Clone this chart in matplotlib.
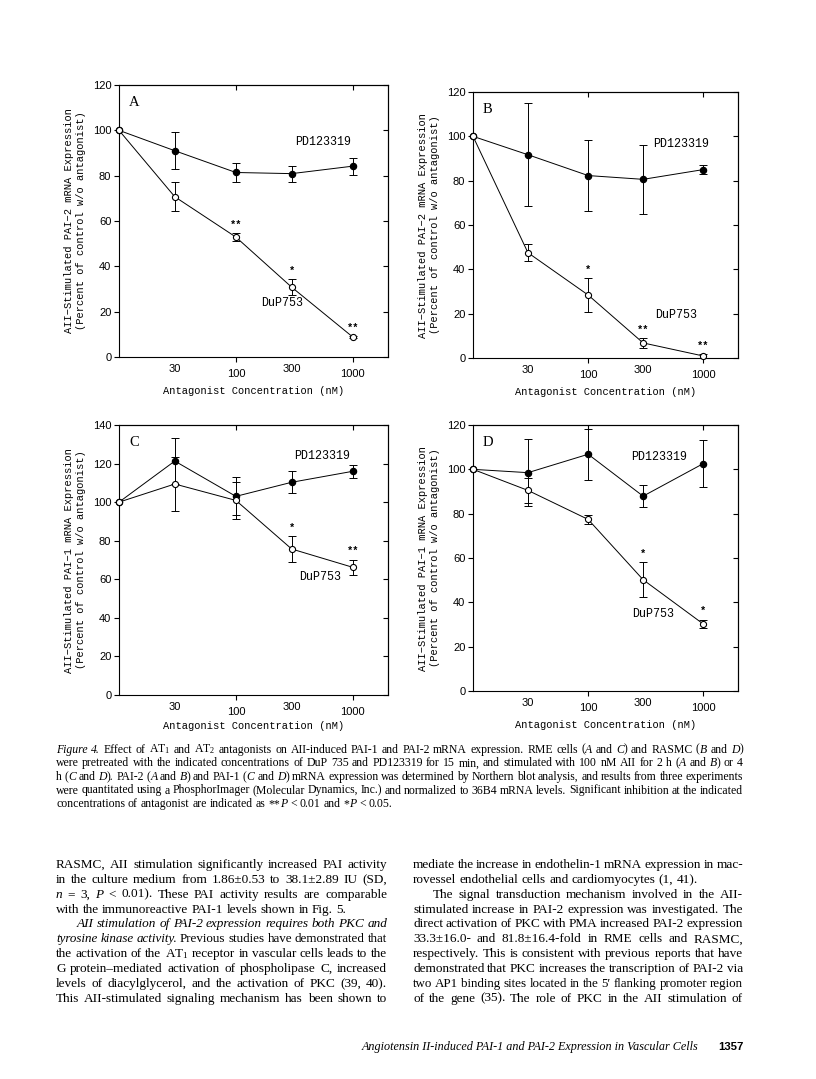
import numpy as np
import matplotlib
matplotlib.use("Agg")
import matplotlib.pyplot as plt
from matplotlib.ticker import FixedLocator, NullLocator

plt.rcParams["mathtext.fontset"] = "custom"
plt.rcParams["mathtext.rm"] = "Liberation Serif"
plt.rcParams["mathtext.it"] = "Liberation Serif:italic"
plt.rcParams["mathtext.bf"] = "Liberation Serif:bold"

# ---------- data ----------
conc = [10, 30, 100, 300, 1000]          # 10 = no antagonist (control)
xtick_major = [100, 1000]
xtick_minor = [30, 300]

a_pd = [100, 91.0, 81.4, 80.9, 84.2]
a_pd_err = [0, 8.2, 4.3, 3.5, 3.7]
a_dup = [100, 70.7, 52.9, 30.8, 8.8]
a_dup_err = [0, 6.4, 1.6, 3.5, 0.5]
a_sig = ["", "", "**", "*", "**"]

b_pd = [100, 91.7, 82.3, 80.6, 85.0]
b_pd_err = [0, 23.2, 15.9, 15.5, 2.0]
b_dup = [100, 47.5, 28.4, 6.8, 0.9]
b_dup_err = [0, 3.9, 7.7, 2.2, 1.0]
b_sig = ["", "", "*", "**", "**"]

c_pd = [100, 121.3, 103.0, 110.3, 116.0]
c_pd_err = [0, 12.1, 9.8, 5.7, 3.3]
c_dup = [100, 109.4, 100.9, 75.7, 66.2]
c_dup_err = [0, 13.8, 9.6, 6.7, 4.0]
c_sig = ["", "", "", "*", "**"]

d_pd = [100, 98.5, 106.8, 87.9, 102.6]
d_pd_err = [0, 15.0, 11.6, 5.0, 10.7]
d_dup = [100, 90.5, 77.4, 50.2, 30.2]
d_dup_err = [0, 5.5, 2.2, 8.0, 2.0]
d_sig = ["", "", "", "*", "*"]

ylab_pai2 = "AII\u2212Stimulated PAI\u22122 mRNA Expression\n(Percent of control w/o antagonist)"
ylab_pai1 = "AII\u2212Stimulated PAI\u22121 mRNA Expression\n(Percent of control w/o antagonist)"
xlab = "Antagonist Concentration (nM)"

W, H = 816, 1079
fig = plt.figure(figsize=(W / 100, H / 100), dpi=100)
fig.patch.set_facecolor("white")

MONO = "Liberation Mono"
SANS = "Liberation Sans"
SERIF = "Liberation Serif"


def box(l, t, r, b):
    return [l / W, 1 - b / H, (r - l) / W, (b - t) / H]


def panel(rect, letter, pd, pd_err, dup, dup_err, sig, ymax, ylabel,
          pd_pos, dup_pos, xlab_y):
    ax = fig.add_axes(box(*rect))
    ax.set_xscale("log")
    ax.set_xlim(10, 2000)
    ax.set_ylim(0, ymax)
    for s in ax.spines.values():
        s.set_linewidth(0.8)

    ax.plot(conc, pd, "-o", color="k", lw=0.7, ms=4.4, clip_on=False, zorder=3)
    ax.errorbar(conc[1:], pd[1:], yerr=pd_err[1:], fmt="none", ecolor="k",
                elinewidth=0.7, capsize=2.8, capthick=0.7, zorder=2)
    ax.plot(conc, dup, "-o", color="k", lw=0.7, ms=4.4, mfc="white", mec="k",
            mew=0.8, clip_on=False, zorder=4)
    ax.errorbar(conc[1:], dup[1:], yerr=dup_err[1:], fmt="none", ecolor="k",
                elinewidth=0.7, capsize=2.8, capthick=0.7, zorder=2)

    for x, y, e, s in zip(conc, dup, dup_err, sig):
        if s:
            ax.annotate(s, (x, y + e), xytext=(0, 6), textcoords="offset points",
                        ha="center", va="center", family=MONO,
                        fontweight="bold", fontsize=7.5)

    ax.text(*pd_pos, "PD123319", family=MONO, fontsize=8.4, ha="center", va="center")
    ax.text(*dup_pos, "DuP753", family=MONO, fontsize=8.4, ha="center", va="center")
    ax.text(0.055, 0.935, letter, transform=ax.transAxes, family=SERIF,
            fontsize=10.5, ha="center", va="center")

    ax.xaxis.set_major_locator(FixedLocator(xtick_major))
    ax.xaxis.set_minor_locator(FixedLocator(xtick_minor))
    ax.set_xticklabels([str(v) for v in xtick_major])
    ax.set_xticklabels([str(v) for v in xtick_minor], minor=True)
    ax.set_yticks(np.arange(0, ymax + 1, 20))
    ax.tick_params(axis="both", which="major", direction="out", length=3.5,
                   width=0.8, labelsize=8, labelfontfamily=SANS)
    ax.tick_params(axis="x", which="both", pad=5)
    ax.tick_params(axis="x", which="minor", length=0, labelsize=8,
                   labelfontfamily=SANS)
    ax.tick_params(axis="y", pad=2)

    top = ax.secondary_xaxis("top")
    top.xaxis.set_major_locator(FixedLocator(xtick_major))
    top.xaxis.set_minor_locator(NullLocator())
    top.tick_params(direction="in", length=3.5, width=0.8, labeltop=False)
    right = ax.secondary_yaxis("right")
    right.set_yticks(np.arange(0, ymax + 1, 20))
    right.tick_params(direction="in", length=3.5, width=0.8, labelright=False)
    for sec in (top, right):
        for s in sec.spines.values():
            s.set_linewidth(0.8)

    ax.set_xlabel(xlab, family=MONO, fontsize=7.5)
    ax.xaxis.set_label_coords(0.5, xlab_y)
    ax.set_ylabel(ylabel, family=MONO, fontsize=7.5, linespacing=1.25)
    ax.yaxis.set_label_coords(-0.165, 0.5)
    ax.yaxis.label.set_va("center")
    return ax


panel((119, 85, 388, 357), "A", a_pd, a_pd_err, a_dup, a_dup_err, a_sig, 120,
      ylab_pai2, (562, 95), (248, 24), -0.105)
panel((473, 92, 738, 358), "B", b_pd, b_pd_err, b_dup, b_dup_err, b_sig, 120,
      ylab_pai2, (646, 96.7), (582, 19.4), -0.11)
panel((119, 425, 388, 695), "C", c_pd, c_pd_err, c_dup, c_dup_err, c_sig, 140,
      ylab_pai1, (542, 124), (524, 61), -0.095)
panel((473, 425, 738, 691), "D", d_pd, d_pd_err, d_dup, d_dup_err, d_sig, 120,
      ylab_pai1, (411, 105.6), (365, 34.9), -0.11)

# ---------- page text ----------
caption = [
    "|Figure 4.| Effect of AT$_1$ and AT$_2$ antagonists on AII-induced PAI-1 and PAI-2 mRNA expression. RME cells (|A| and |C|) and RASMC (|B| and |D|)",
    "were pretreated with the indicated concentrations of DuP 735 and PD123319 for 15 min, and stimulated with 100 nM AII for 2 h (|A| and |B|) or 4",
    "h (|C| and |D|). PAI-2 (|A| and |B|) and PAI-1 (|C| and |D|) mRNA expression was determined by Northern blot analysis, and results from three experiments",
    "were quantitated using a PhosphorImager (Molecular Dynamics, Inc.) and normalized to 36B4 mRNA levels. Significant inhibition at the indicated",
    "concentrations of antagonist are indicated as **|P| < 0.01 and *|P| < 0.05.",
]
left_col = [
    "RASMC, AII stimulation significantly increased PAI activity",
    "in the culture medium from 1.86\u00b10.53 to 38.1\u00b12.89 IU (SD,",
    "|n| = 3, |P| < 0.01). These PAI activity results are comparable",
    "with the immunoreactive PAI-1 levels shown in Fig. 5.",
    "|AII stimulation of PAI-2 expression requires both PKC and",
    "tyrosine kinase activity.| Previous studies have demonstrated that",
    "the activation of the AT$_1$ receptor in vascular cells leads to the",
    "G protein\u2013mediated activation of phospholipase C, increased",
    "levels of diacylglycerol, and the activation of PKC (39, 40).",
    "This AII-stimulated signaling mechanism has been shown to",
]
right_col = [
    "mediate the increase in endothelin-1 mRNA expression in mac-",
    "rovessel endothelial cells and cardiomyocytes (1, 41).",
    "The signal transduction mechanism involved in the AII-",
    "stimulated increase in PAI-2 expression was investigated. The",
    "direct activation of PKC with PMA increased PAI-2 expression",
    "33.3\u00b116.0- and 81.8\u00b116.4-fold in RME cells and RASMC,",
    "respectively. This is consistent with previous reports that have",
    "demonstrated that PKC increases the transcription of PAI-2 via",
    "two AP1 binding sites located in the 5\u2032 flanking promoter region",
    "of the gene (35). The role of PKC in the AII stimulation of",
]
left_indent = [0, 0, 0, 0, 21, 0, 0, 0, 0, 0]
left_ragged = [3]
right_indent = [0, 0, 20, 0, 0, 0, 0, 0, 0, 0]
right_ragged = [1]

renderer = fig.canvas.get_renderer()


def split_words(line, italic):
    words = []
    for raw in line.split(" "):
        pieces = []
        for j, seg in enumerate(raw.split("|")):
            if j > 0:
                italic = not italic
            if seg:
                pieces.append((seg, italic))
        if pieces:
            words.append(pieces)
    return words


def draw_line(x0, x1, yb, line, size, justify, italic_start=False):
    words = split_words(line, italic_start)
    # shrink the line a little if it would not fit with real spaces
    while True:
        objs, widths = [], []
        for pieces in words:
            row, w = [], 0
            for seg, it in pieces:
                t = fig.text(0, 1 - yb / H, seg, family=SERIF, fontsize=size,
                             style="italic" if it else "normal", va="baseline")
                pw = t.get_window_extent(renderer).width
                row.append((t, pw))
                w += pw
            objs.append(row)
            widths.append(w)
        space = size * 1.389 * 0.25
        if justify and len(words) > 1:
            gap = (x1 - x0 - sum(widths)) / (len(words) - 1)
        else:
            gap = space
        if gap >= 0.7 * space or size < 6:
            break
        for row in objs:
            for t, _ in row:
                t.remove()
        size -= 0.15
    x = x0
    for row, w in zip(objs, widths):
        px = x
        for t, pw in row:
            t.set_x(px / W)
            px += pw
        x += w + gap


for i, line in enumerate(caption):
    draw_line(56, 743, 752.7 + i * 13.6, line, 8.5, justify=(i < len(caption) - 1))

it_state = False
for i, line in enumerate(left_col):
    draw_line(56 + left_indent[i], 387, 868 + i * 14.86, line, 9.5,
              justify=(i not in left_ragged), italic_start=it_state)
    it_state = (it_state + line.count("|")) % 2 == 1

for i, line in enumerate(right_col):
    draw_line(413 + right_indent[i], 743, 868 + i * 14.86, line, 9.5,
              justify=(i not in right_ragged))

fig.text(698 / W, 1 - 1050 / H,
         "Angiotensin II-induced PAI-1 and PAI-2 Expression in Vascular Cells",
         family=SERIF, style="italic", fontsize=8.7, ha="right", va="baseline")
fig.text(744 / W, 1 - 1050 / H, "1357", family=SANS, fontweight="bold",
         fontsize=8.2, ha="right", va="baseline")

fig.savefig("out.png", dpi=100, facecolor="white")
